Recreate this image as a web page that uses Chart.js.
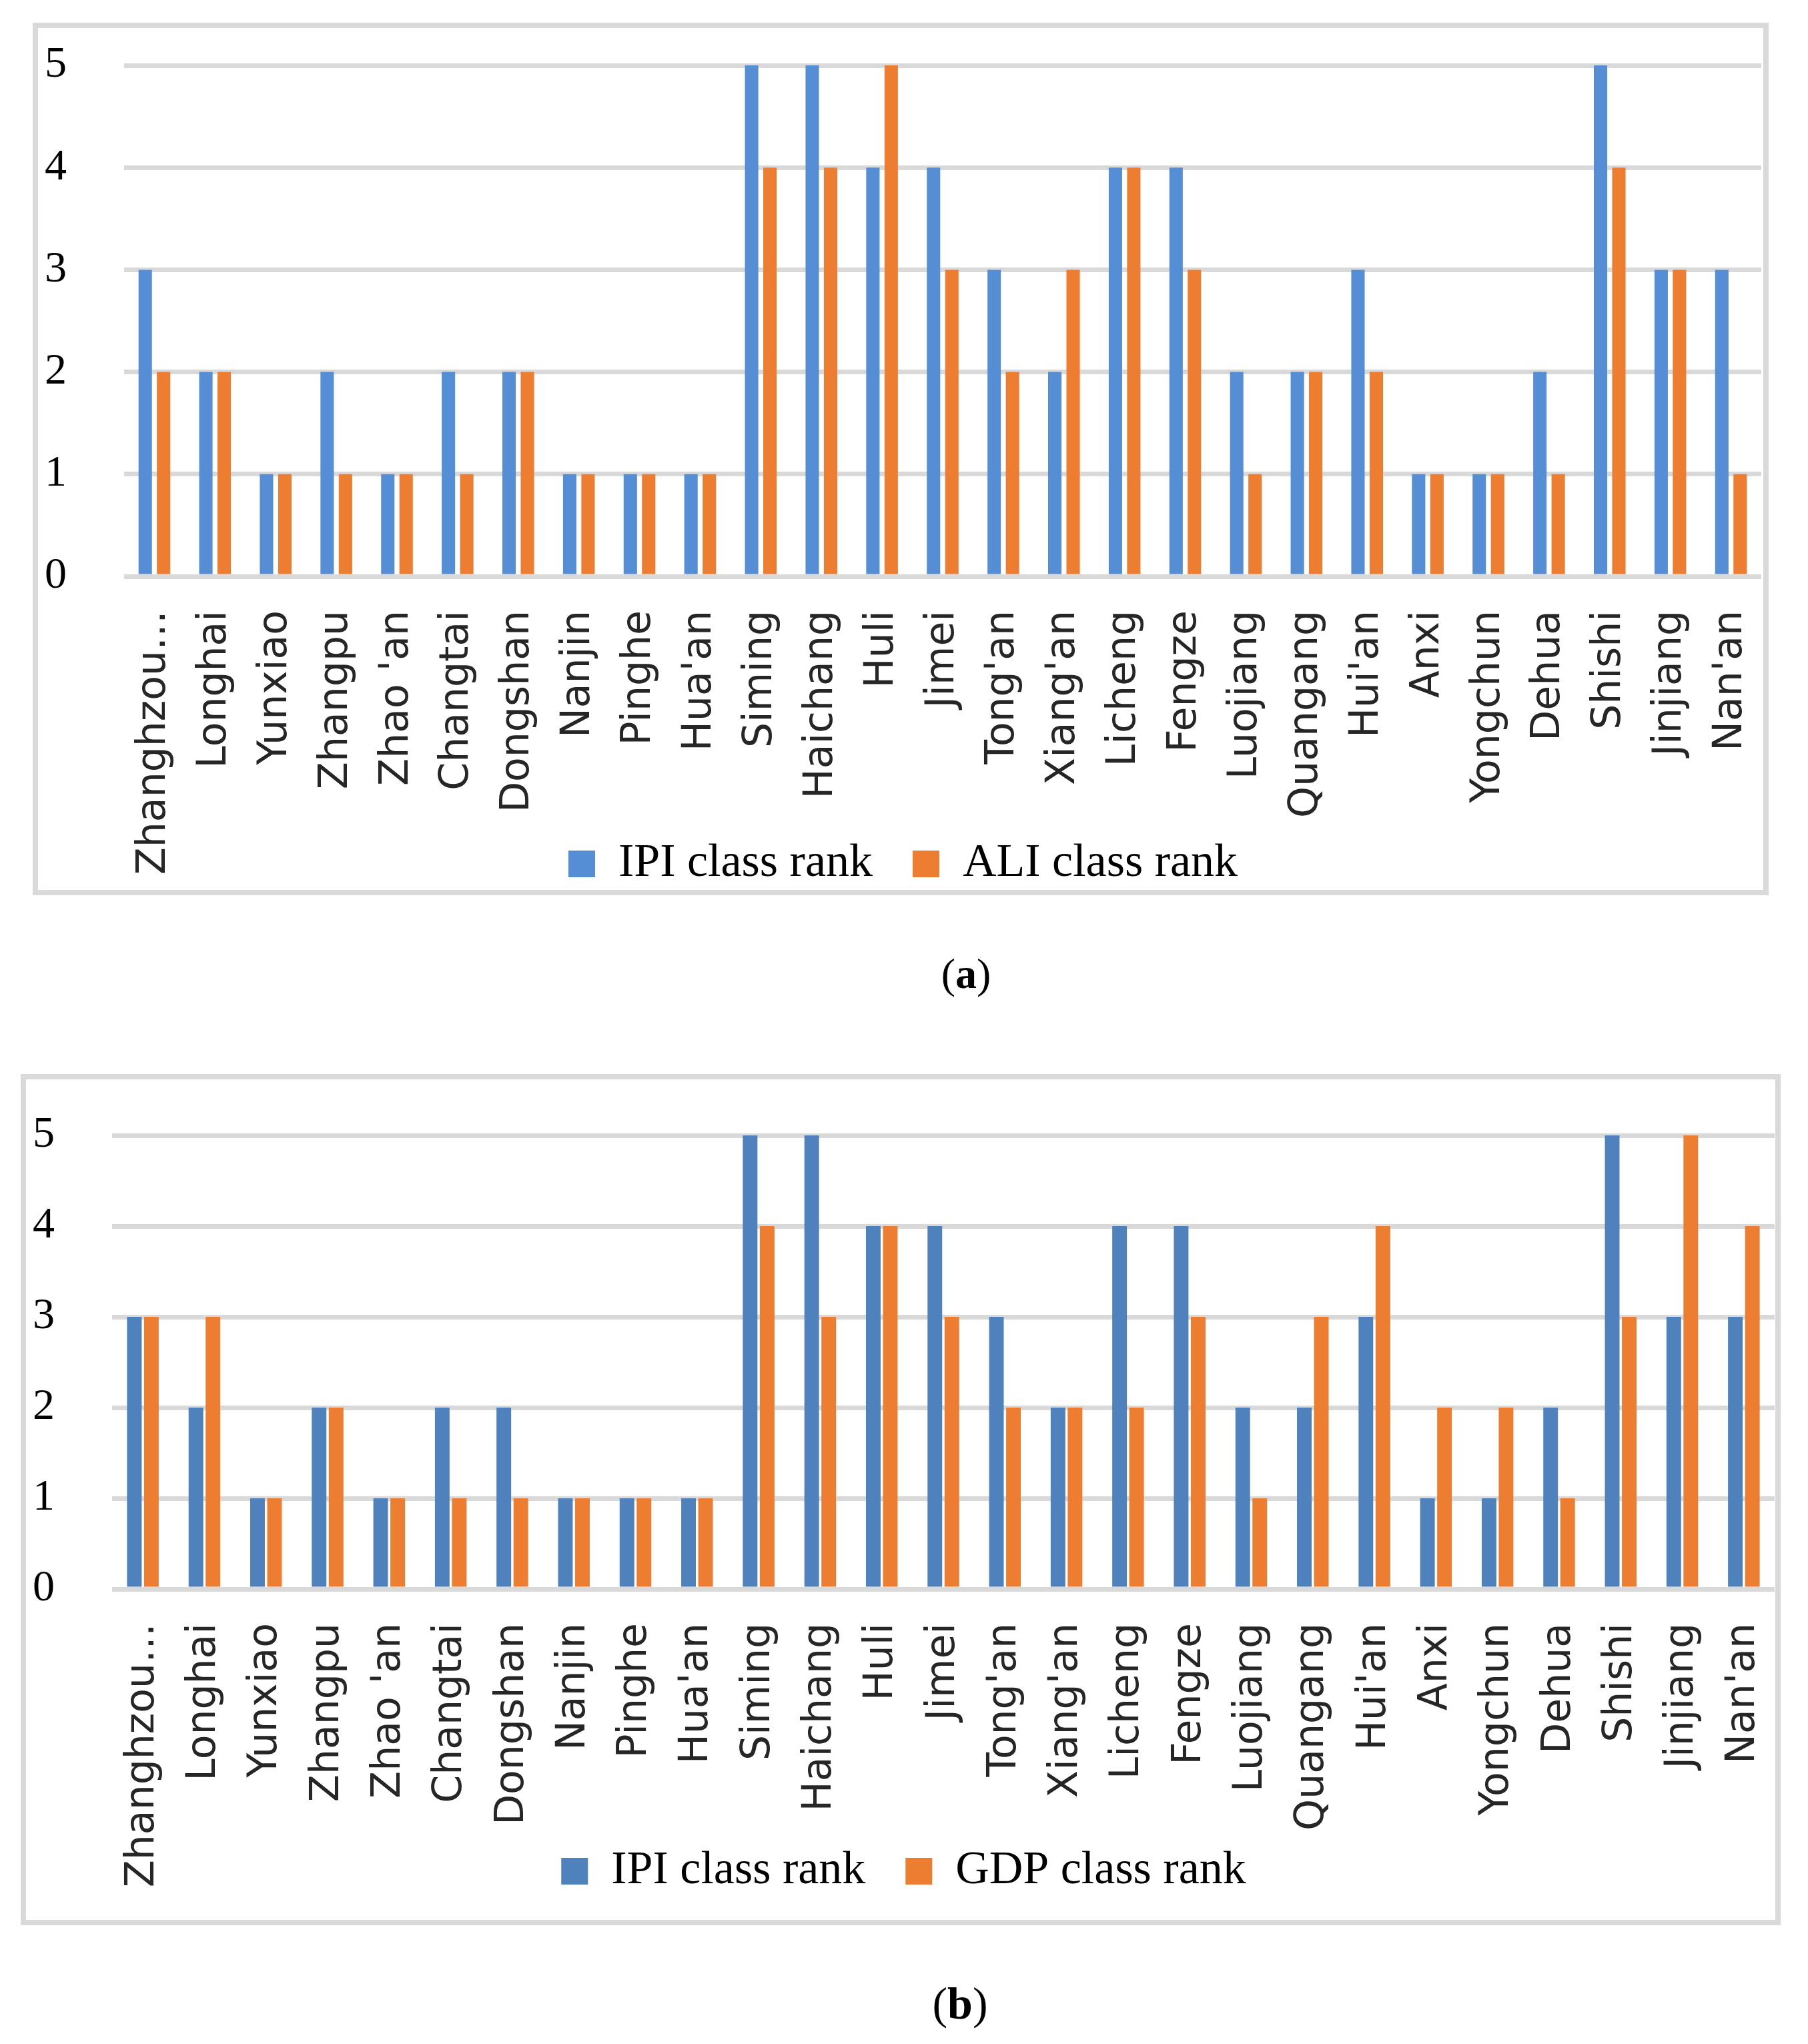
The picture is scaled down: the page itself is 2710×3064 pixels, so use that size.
<!DOCTYPE html>
<html>
<head>
<meta charset="utf-8">
<script src="https://cdn.jsdelivr.net/npm/chart.js@4.4.1/dist/chart.umd.min.js"></script>
<style>
  body { margin: 0; background: #fff; width: 2710px; height: 3064px; position: relative; overflow: hidden; }
  canvas { position: absolute; left: 0; }
  .frame { position: absolute; border: 8px solid #d9d9d9; box-sizing: border-box; pointer-events: none; }
  .cap { position: absolute; font-family: "Liberation Serif", serif; color: #000; text-align: center; width: 200px; }
</style>
</head>
<body>
<canvas id="chartA" width="2710" height="1460" style="top:0px"></canvas>
<canvas id="chartB" width="2710" height="1500" style="top:1450px"></canvas>
<div class="frame" style="left:49px; top:34px; width:2602px; height:1308px;"></div>
<div class="frame" style="left:31px; top:1610px; width:2638px; height:1276px;"></div>
<div class="cap" style="left:1348px; top:1420px; font-size:64px; line-height:80px;">(<b>a</b>)</div>
<div class="cap" style="left:1339px; top:2960px; font-size:68px; line-height:86px;">(<b>b</b>)</div>
<script>
const counties = ['Zhanghzou…', 'Longhai', 'Yunxiao', 'Zhangpu', "Zhao 'an", 'Changtai', 'Dongshan', 'Nanjin', 'Pinghe', "Hua'an",
    'Siming', 'Haichang', 'Huli', 'Jimei', "Tong'an", "Xiang'an", 'Licheng', 'Fengze', 'Luojiang', 'Quangang',
    "Hui'an", 'Anxi', 'Yongchun', 'Dehua', 'Shishi', 'Jinjiang', "Nan'an"];
const ipiRank = [3, 2, 1, 2, 1, 2, 2, 1, 1, 1, 5, 5, 4, 4, 3, 2, 4, 4, 2, 2, 3, 1, 1, 2, 5, 3, 3];
const aliRank = [2, 2, 1, 1, 1, 1, 2, 1, 1, 1, 4, 4, 5, 3, 2, 3, 4, 3, 1, 2, 2, 1, 1, 1, 4, 3, 1];
const gdpRank = [3, 3, 1, 2, 1, 1, 1, 1, 1, 1, 4, 3, 4, 3, 2, 2, 2, 3, 1, 3, 4, 2, 2, 1, 3, 5, 4];
const rankTicks = [0, 1, 2, 3, 4, 5];

// the legend sits over the lower end of the long rotated labels, so move it up after layout
const legendPlacer = {
    id: 'legendPlacer',
    afterLayout(chart, args, opts) {
        const lg = chart.legend;
        lg.top = opts.top;
        lg.height = 200;
        lg.bottom = opts.top + 200;
    }
};

function rankChart(id, second, secondName, blue, geo) {
    return new Chart(document.getElementById(id), {
        type: 'bar',
        data: {
            labels: counties,
            datasets: [
                { label: 'IPI class rank', data: ipiRank, backgroundColor: blue,
                  categoryPercentage: geo.cat, barPercentage: geo.bar },
                { label: secondName, data: second, backgroundColor: '#ed7d31',
                  categoryPercentage: geo.cat, barPercentage: geo.bar }
            ]
        },
        plugins: [legendPlacer],
        options: {
            responsive: false,
            animation: false,
            devicePixelRatio: 1,
            layout: { padding: geo.pad },
            plugins: {
                tooltip: { enabled: false },
                legendPlacer: { top: geo.legendTop },
                legend: {
                    position: 'bottom',
                    maxHeight: 100,
                    labels: {
                        boxWidth: 40, boxHeight: 40, padding: 60, color: '#000',
                        font: { family: 'Liberation Serif', size: 70 }
                    }
                }
            },
            scales: {
                x: {
                    grid: { display: false, drawTicks: false },
                    border: { display: false },
                    ticks: {
                        autoSkip: false, minRotation: 90, maxRotation: 90, padding: 51,
                        color: '#262626', font: { family: 'DejaVu Sans', size: 60 }
                    },
                    afterFit: s => { s.height = 450; s.paddingLeft = 0; s.paddingRight = 0; }
                },
                y: {
                    min: 0, max: 5,
                    afterBuildTicks: s => { s.ticks = rankTicks.map(v => ({ value: v })); },
                    grid: { color: '#d9d9d9', lineWidth: 7, drawTicks: false },
                    border: { display: false },
                    ticks: { padding: 0, crossAlign: 'far', color: '#000',
                             font: { family: 'Liberation Serif', size: 66 } },
                    afterFit: s => { s.width = geo.yw; }
                }
            }
        }
    });
}

rankChart('chartA', aliRank, 'ALI class rank', '#558ed5',
    { cat: 0.605, bar: 0.73, yw: 119, legendTop: 1200,
      pad: { left: 67, right: 70, top: 98, bottom: 46 } });
rankChart('chartB', gdpRank, 'GDP class rank', '#4f81bd',
    { cat: 0.553, bar: 0.86, yw: 119, legendTop: 1260,
      pad: { left: 49, right: 50, top: 252, bottom: 18 } });
</script>
</body>
</html>
